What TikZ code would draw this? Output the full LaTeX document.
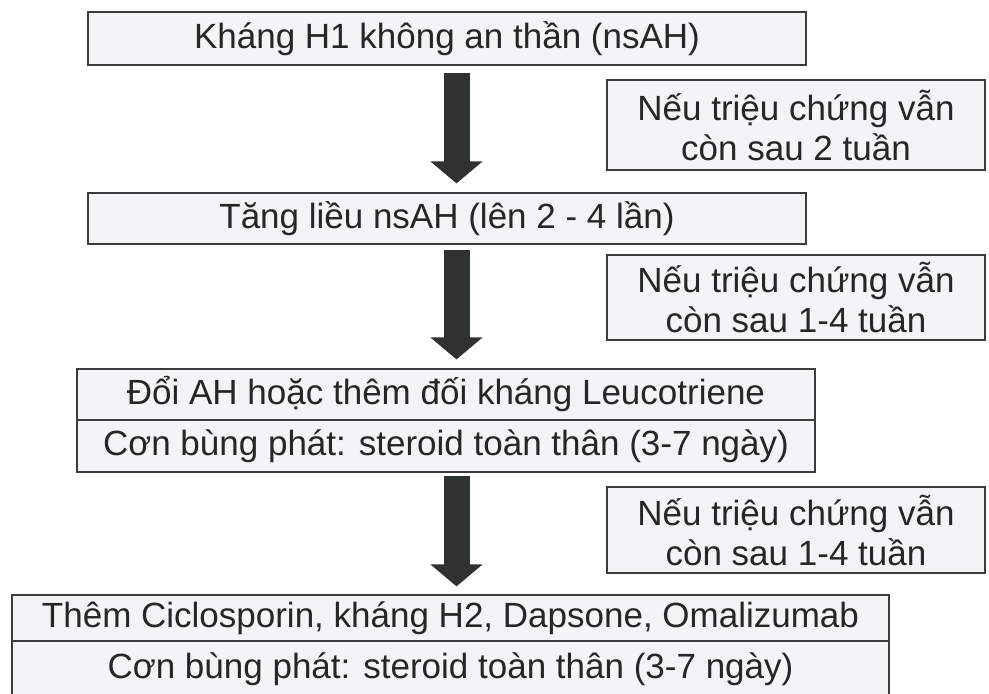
\documentclass[tikz,border=0pt]{standalone}
\usepackage{fontspec}
\setmainfont{Liberation Sans}
\usepackage{tikz}
\usetikzlibrary{positioning,arrows.meta}
\definecolor{tline}{RGB}{60,60,60}
\definecolor{tfill}{RGB}{244,244,246}
\definecolor{tarrowc}{RGB}{47,51,47}
\tikzstyle{tstep}=[rectangle,draw=tline,fill=tfill,line width=1.2pt,inner sep=0pt,
  font=\fontsize{35}{40}\selectfont,text=black!85]
\tikzstyle{tnote}=[tstep,align=center,minimum width=378pt]
\tikzstyle{tarrow}=[draw=tarrowc,line width=26pt,-{Triangle[length=22pt,width=51pt]}]

\begin{document}
\begin{tikzpicture}[x=1pt,y=-1pt]
  \useasboundingbox (0,0) rectangle (989,694);

  \node[tstep,minimum width=718pt,minimum height=53pt] (s1) at (447,38.5) {Kháng H1 không an thần (nsAH)};
  \node[tstep,minimum width=718pt,minimum height=51pt] (s2) at (447,218.5) {Tăng liều nsAH (lên 2 - 4 lần)};
  \node[tstep,minimum width=738pt,minimum height=51pt] (s3a) at (446,394.5) {Đổi AH hoặc thêm đối kháng Leucotriene};
  \node[tstep,minimum width=738pt,minimum height=52pt] (s3b) at (446,446) {Cơn bùng phát: steroid toàn thân (3-7 ngày)};
  \node[tstep,minimum width=877pt,minimum height=46pt] (s4a) at (450.5,618) {Thêm Ciclosporin, kháng H2, Dapsone, Omalizumab};
  \node[tstep,minimum width=877pt,minimum height=56pt] (s4b) at (450.5,669) {Cơn bùng phát: steroid toàn thân (3-7 ngày)};

  \node[tnote,minimum height=90pt] (n1) at (796,125) {Nếu triệu chứng vẫn\\còn sau 2 tuần};
  \node[tnote,minimum height=85pt] (n2) at (796,297.5) {Nếu triệu chứng vẫn\\còn sau 1-4 tuần};
  \node[tnote,minimum height=86pt] (n3) at (796,530) {Nếu triệu chứng vẫn\\còn sau 1-4 tuần};

  \coordinate (ax) at (456.5,0);

  \draw[tarrow,shorten <=7pt,shorten >=9pt] (s1.south -| ax) to (s2.north -| ax);
  \draw[tarrow,shorten <=5pt,shorten >=9pt] (s2.south -| ax) to (s3a.north -| ax);
  \draw[tarrow,shorten <=3pt,shorten >=8pt] (s3b.south -| ax) to (s4a.north -| ax);

\end{tikzpicture}
\end{document}
